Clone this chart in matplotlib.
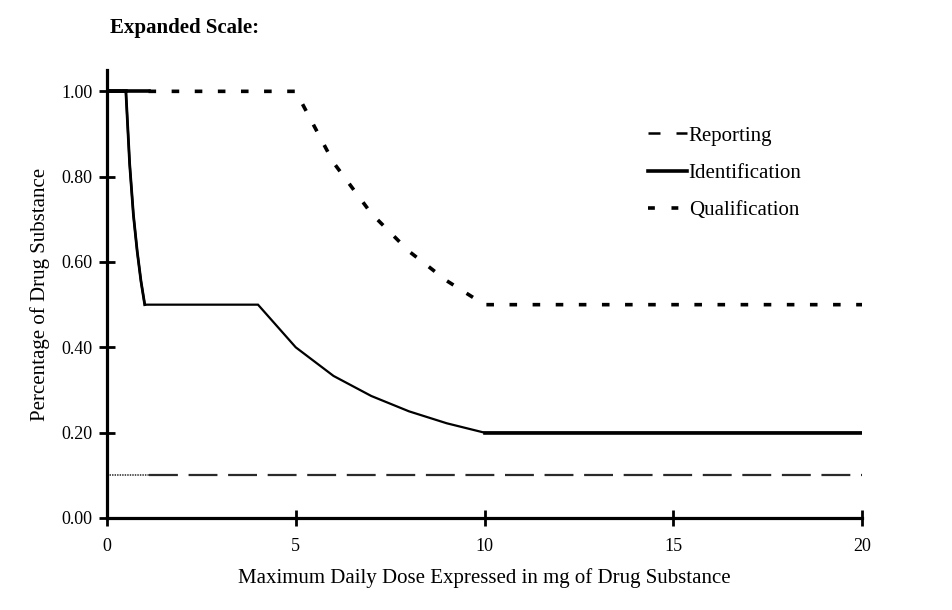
import matplotlib
matplotlib.use('Agg')
import matplotlib.pyplot as plt
from matplotlib.lines import Line2D

plt.rcParams['font.family'] = ['Liberation Serif', 'DejaVu Serif']

# Data
dose_reporting = [0, 1.1, 20]
reporting = [0.10, 0.10, 0.10]

dose_ident = [0, 0.5, 0.6, 0.7, 0.8, 0.9, 1.0, 4, 5, 6, 7, 8, 9, 10, 20]
identification = [1.00, 1.00, 0.83, 0.71, 0.625, 0.555, 0.50, 0.50,
                  0.40, 0.333, 0.286, 0.25, 0.222, 0.20, 0.20]

dose_qual = [0, 1.1, 5, 6, 7, 8, 9, 10, 20]
qualification = [1.00, 1.00, 1.00, 0.833, 0.714, 0.625, 0.556, 0.50, 0.50]

series_names = ['Reporting', 'Identification', 'Qualification']
x_ticks = [0, 5, 10, 15, 20]
y_ticks = [0.0, 0.2, 0.4, 0.6, 0.8, 1.0]

fig = plt.figure(figsize=(9.52, 6.1), dpi=100)
ax = fig.add_axes([107/952, 92/610, (862-107)/952, (518-70)/610])

# Reporting
ax.plot(dose_reporting[:2], reporting[:2], color='#444444', lw=1.3,
        linestyle=(0, (0.8, 0.6)))
ax.plot(dose_reporting[1:], reporting[1:], color='#2a2a2a', lw=1.6,
        linestyle=(0, (13.0, 4.8)))

# Identification
ax.plot(dose_ident, identification, color='black', lw=1.6,
        solid_joinstyle='miter')
ax.plot(dose_ident[:7], identification[:7], color='black', lw=2.0)
ax.plot(dose_ident[:2], identification[:2], color='black', lw=2.6)
ax.plot(dose_ident[-2:], identification[-2:], color='black', lw=2.6)

# Qualification
ax.plot(dose_qual[:2], qualification[:2], color='black', lw=2.6)
ax.plot(dose_qual[1:], qualification[1:], color='black', lw=2.6,
        linestyle=(0, (2.1, 4.3)))

ax.set_xlim(0, 20)
ax.set_ylim(0, 1.05)
ax.set_xticks(x_ticks)
ax.set_xticklabels([str(t) for t in x_ticks], fontsize=13)
ax.set_yticks(y_ticks)
ax.set_yticklabels([f'{t:.2f}' for t in y_ticks], fontsize=13)

for s in ['top', 'right']:
    ax.spines[s].set_visible(False)
for s in ['left', 'bottom']:
    ax.spines[s].set_linewidth(2.3)
ax.tick_params(direction='inout', length=11, width=2.0, pad=5)
ax.tick_params(axis='x', pad=9)

ax.set_xlabel('Maximum Daily Dose Expressed in mg of Drug Substance',
              fontsize=15, labelpad=9)
ax.set_ylabel('Percentage of Drug Substance', fontsize=15, labelpad=8)

fig.text(110/952, 1 - 28/610, 'Expanded Scale:', fontsize=15,
         fontweight='bold', va='center', ha='left')

handles = [
    Line2D([], [], color='black', lw=1.8, linestyle=(0, (4.8, 6.4))),
    Line2D([], [], color='black', lw=2.6),
    Line2D([], [], color='black', lw=2.6, linestyle=(0, (1.9, 4.6))),
]
fig.legend(handles, series_names, loc='upper left',
           bbox_to_anchor=(648/952, 1 - 126/610), frameon=False,
           fontsize=15, handlelength=1.85, handletextpad=0.1,
           labelspacing=0.85, borderpad=0, borderaxespad=0)

fig.savefig('out.png', dpi=100)
